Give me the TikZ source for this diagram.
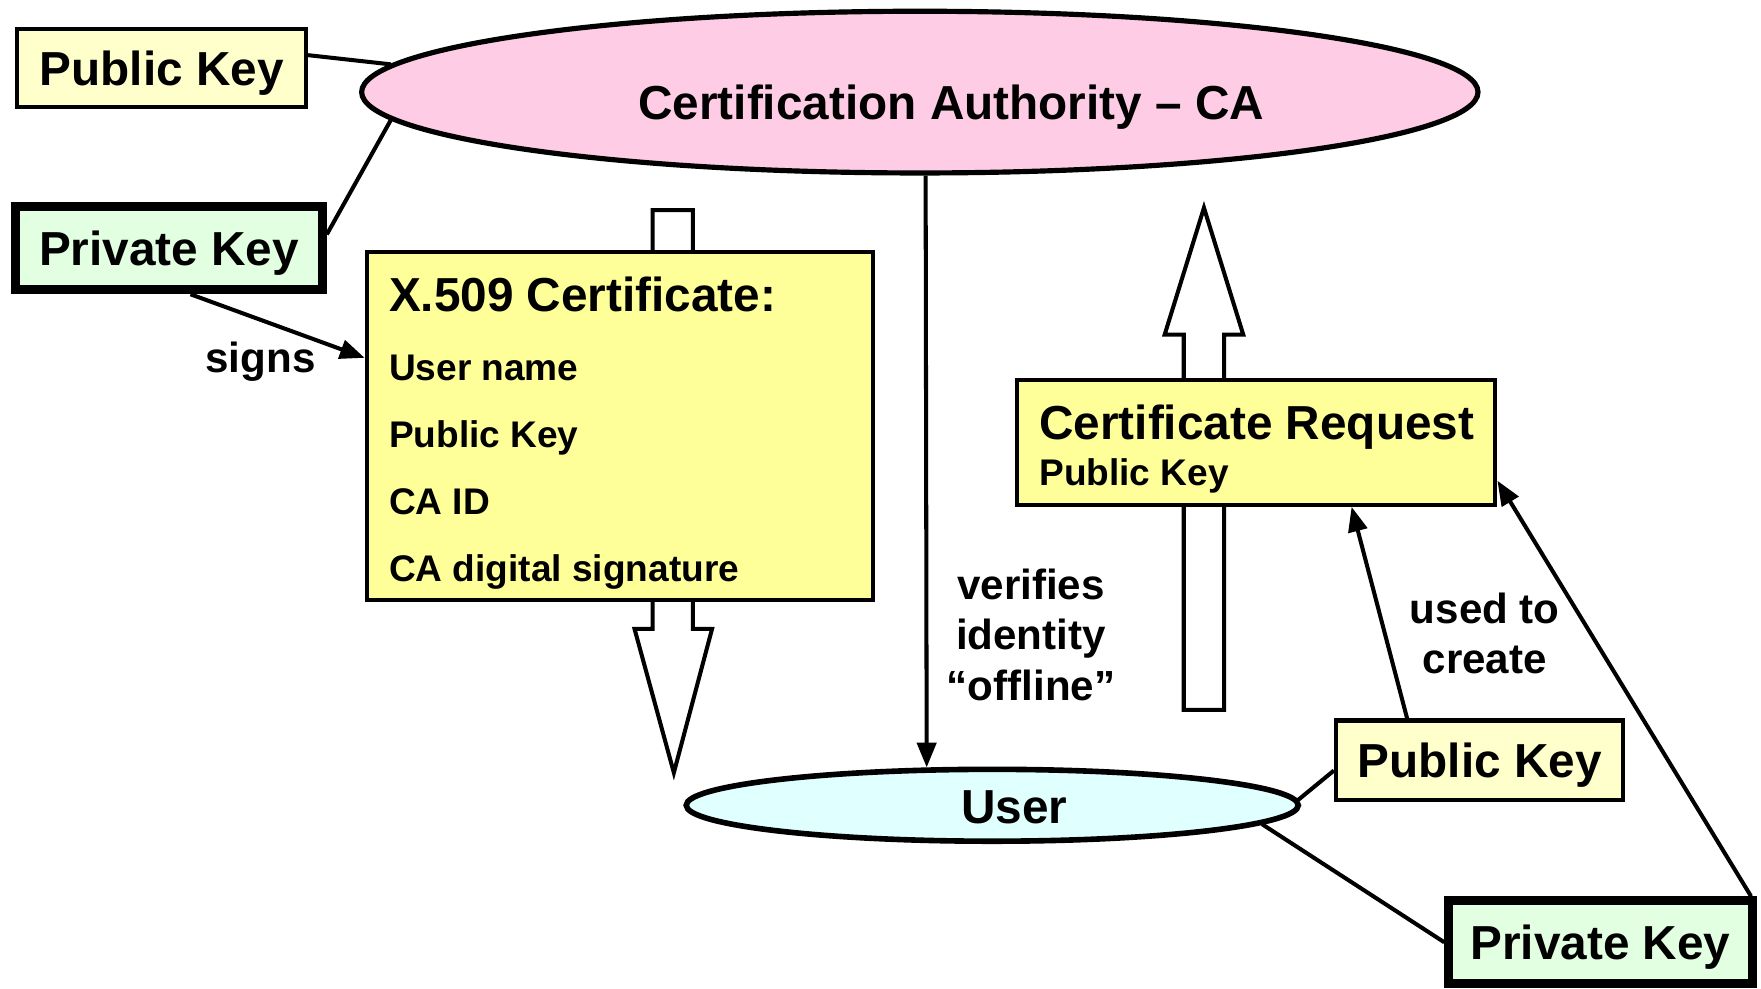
\documentclass[tikz,border=0pt]{standalone}
\usepackage{fontspec}
\setmainfont{Liberation Sans}
\usetikzlibrary{shapes.geometric,arrows.meta}
\definecolor{pubfill}{HTML}{FFFFCC}
\definecolor{privfill}{HTML}{E2FFE2}
\definecolor{cafill}{HTML}{FFCCE6}
\definecolor{certfill}{HTML}{FFFF99}
\definecolor{userfill}{HTML}{E0FFFF}
\newcommand{\bigf}{\fontsize{21.25}{25}\selectfont\bfseries}
\newcommand{\midf}{\fontsize{18.75}{22.5}\selectfont\bfseries}
\newcommand{\smallf}{\fontsize{16.5}{20}\selectfont\bfseries}
\begin{document}
\begin{tikzpicture}[x=0.5pt,y=-0.5pt,
  pubbox/.style={draw,line width=1.8pt,fill=pubfill,inner sep=0pt,font=\bigf,text depth=0pt},
  privbox/.style={draw,line width=4pt,fill=privfill,inner sep=0pt,font=\bigf,text depth=0pt},
  certbox/.style={draw,line width=1.8pt,fill=certfill,inner sep=0pt},
  oval/.style={ellipse,draw,line width=2.3pt,inner sep=0pt},
  conn/.style={line width=1.8pt},
  arr/.style={line width=1.8pt,-{Triangle[length=11pt,width=8.5pt]}},
  hollow/.style={draw,fill=white,line width=1.8pt,line join=miter},
  lbl/.style={inner sep=0pt,align=center,font=\midf}]
\useasboundingbox (0,0) rectangle (1568,880);

% hollow arrows (behind boxes)
\draw[hollow] (581,187) -- (617,187) -- (617,560) -- (634,560) -- (600,688) -- (565,560) -- (581,560) -- cycle;
\draw[hollow] (1054,632) -- (1090,632) -- (1090,298) -- (1107,298) -- (1072,185) -- (1037,298) -- (1054,298) -- cycle;

% ellipses
\node[oval,fill=cafill,minimum width=497pt,minimum height=72pt] (ca) at (819,82) {};
\node[inner sep=0pt,font=\bigf,text depth=0pt] (catext) at (847,91) {Certification Authority – CA};
\node[oval,fill=userfill,line width=2.5pt,minimum width=272.5pt,minimum height=32pt] (user) at (883.5,717) {};
\node[inner sep=0pt,font=\bigf,text depth=0pt] (usertext) at (903,719) {User};

% key boxes
\node[pubbox,minimum width=128.5pt,minimum height=35pt] (pk1) at (144,60.5) {Public Key};
\node[privbox,minimum width=136.5pt,minimum height=37pt] (pkL) at (150.5,221) {Private Key};
\node[pubbox,minimum width=128pt,minimum height=35.5pt] (pubR) at (1317.5,677) {Public Key};
\node[privbox,minimum width=135pt,minimum height=37pt] (pkR) at (1425,839) {Private Key};

% certificate
\node[certbox,minimum width=225.5pt,minimum height=155pt] (cert) at (552,379.5) {};
\node[anchor=base west,inner sep=0pt,font=\bigf] (certt) at (346,277) {X.509 Certificate:};
\node[anchor=base west,inner sep=0pt,font=\smallf] (c1) at (346,339) {User name};
\node[anchor=base west,inner sep=0pt,font=\smallf] (c2) at (346,398) {Public Key};
\node[anchor=base west,inner sep=0pt,font=\smallf] (c3) at (346,458) {CA ID};
\node[anchor=base west,inner sep=0pt,font=\smallf] (c4) at (346,518) {CA digital signature};

% certificate request
\node[certbox,minimum width=213pt,minimum height=55.5pt] (req) at (1118.5,394) {};
\node[anchor=base west,inner sep=0pt,font=\bigf] (reqt) at (925,391) {Certificate Request};
\node[anchor=base west,inner sep=0pt,font=\smallf] (reqk) at (925,432) {Public Key};

% labels
\node[lbl,text depth=0pt] (signs) at (232,318) {signs};
\node[lbl] (verif) at (918,565) {verifies\\identity\\“offline”};
\node[lbl] (used) at (1322,564) {used to\\create};

% connectors
\draw[conn] (pk1.5) -- (ca.177.4);
\draw[conn] (pkL.5.3) -- (ca.183.5);
\draw[arr] (pkL.295.4) -- (cert.165.3);
\draw[arr] (ca.274.6) -- (user.150.4);
\draw[conn] (pubR.184.9) -- (user.1.05);
\draw[conn] (user.356) -- (pkR.west);
\draw[arr] (pubR.150.2) -- (req.326.6);
\draw[arr] (pkR.17) -- (req.351.8);
\end{tikzpicture}
\end{document}
